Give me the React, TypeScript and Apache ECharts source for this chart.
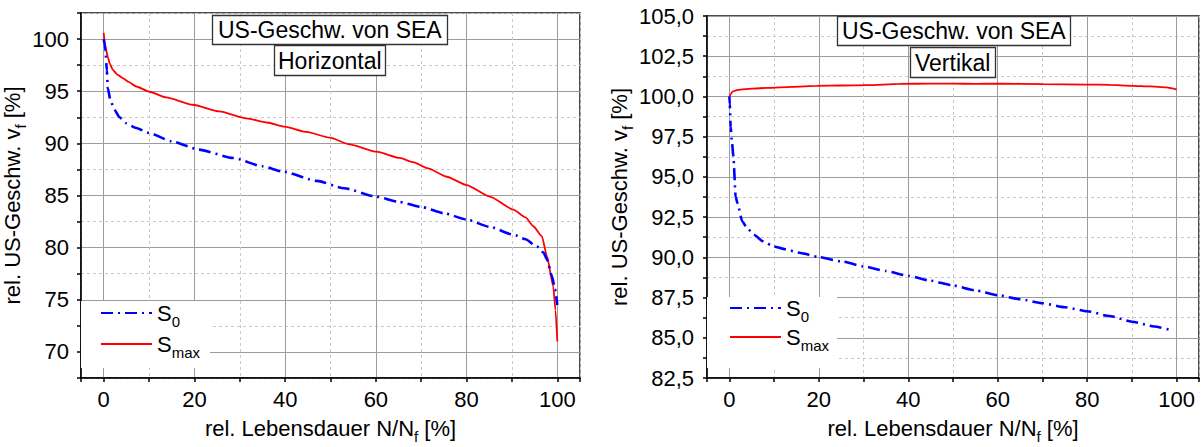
import React, { useEffect, useRef } from 'react';
import * as echarts from 'echarts';

// ---------- Data (left: Horizontal, right: Vertikal) ----------
const hS0X = [0, 0.2, 0.4, 0.7, 0.9, 1.5, 2.4, 3.5, 4.9, 7, 10, 15, 21, 28.5, 35, 39.5, 47, 53, 60, 65, 70, 75, 80, 85, 90.3, 93, 95.5, 97, 97.7, 98.8, 99.5, 100];
const hS0Y = [100, 99.5, 98.9, 97, 95.3, 94.1, 93.2, 92.5, 91.95, 91.5, 91.0, 90.2, 89.4, 88.6, 87.8, 87.3, 86.4, 85.7, 84.9, 84.4, 83.9, 83.3, 82.7, 82.0, 81.25, 80.8, 80.1, 79.5, 78.9, 77.3, 76.0, 74.5];

const hSmaxX = [0, 0.2, 0.5, 0.9, 1.4, 2, 3, 4.2, 5.5, 7.2, 10.1, 13.8, 19.6, 25.5, 31.4, 36, 39.9, 44.7, 49.8, 54.2, 60.1, 65.3, 68.2, 71.5, 75.6, 80, 85.1, 90.3, 93, 94.7, 96.6, 97.7, 99.1, 99.6, 100];
const hSmaxY = [100.6, 99.8, 99.0, 98.3, 97.6, 97.06, 96.6, 96.26, 95.9, 95.45, 94.95, 94.4, 93.7, 93.06, 92.4, 92.0, 91.6, 91.1, 90.55, 89.9, 89.2, 88.6, 88.2, 87.6, 86.8, 86.0, 84.9, 83.65, 82.9, 82.05, 81.1, 79.2, 76.3, 74.0, 71.0];

const vS0X = [0, 0.1, 0.3, 0.6, 0.9, 1.4, 1.8, 2.9, 4, 5.5, 7.5, 9.9, 12.5, 15.9, 20, 25, 30, 35, 40, 45, 50, 55, 60, 65, 70, 75, 80, 85, 90, 95, 99.1];
const vS0Y = [100, 99.5, 98.1, 97.1, 96.25, 93.78, 93.37, 92.23, 91.8, 91.4, 91.0, 90.68, 90.5, 90.27, 90.02, 89.75, 89.44, 89.15, 88.85, 88.55, 88.25, 87.95, 87.65, 87.4, 87.15, 86.9, 86.65, 86.35, 86.0, 85.7, 85.45];

const vSmaxX = [0, 0.3, 0.7, 1.5, 2.5, 5, 8.5, 14, 19.6, 25, 30.8, 38, 45, 50, 55, 60.5, 70, 79.8, 85, 90.2, 94, 97.7, 99, 100];
const vSmaxY = [99.98, 100.15, 100.3, 100.38, 100.43, 100.49, 100.53, 100.6, 100.66, 100.68, 100.7, 100.78, 100.8, 100.8, 100.78, 100.8, 100.77, 100.74, 100.72, 100.66, 100.62, 100.56, 100.5, 100.43];

const seriesNames = ['S0', 'Smax'];
const titleLines = ['US-Geschw. von SEA', 'Horizontal', 'Vertikal'];
const xAxisName = '{a|rel. Lebensdauer N/N}{s|f}{a| [%]}';
const yAxisName = '{a|rel. US-Geschw. v}{s|f}{a| [%]}';

// ---------- Styles ----------
const FONT = "'Liberation Sans', Arial, sans-serif";
const MAJOR = '#9c9c9c';
const MINOR = '#c8c8c8';
const CLEAR = 'rgba(0,0,0,0)';

const pairs = (xs: number[], ys: number[]) => xs.map((x, i) => [x, ys[i]]);
const isMult = (v: number, m: number) => Math.abs(v / m - Math.round(v / m)) < 1e-6;

const nameRich = {
  a: { fontSize: 22, lineHeight: 32, fontFamily: FONT, color: '#000' },
  s: { fontSize: 15, lineHeight: 15, verticalAlign: 'bottom', fontFamily: FONT, color: '#000' },
};

function makeXAxes(gridIndex: number) {
  return [
    {
      type: 'value', gridIndex, min: -5, max: 105, minInterval: 20, maxInterval: 20, splitNumber: 5,
      name: xAxisName, nameLocation: 'middle', nameGap: 34,
      nameTextStyle: { fontFamily: FONT, color: '#000', rich: nameRich },
      axisLine: { show: true, onZero: false, lineStyle: { color: '#000', width: 1.5 } },
      axisTick: { show: false },
      axisLabel: {
        show: true, margin: 10, fontSize: 22, fontFamily: FONT, color: '#000',
        formatter: (v: number) => (isMult(v, 20) ? String(Math.round(v)) : ''),
      },
      splitLine: { show: true, lineStyle: { color: MAJOR, width: 1, type: 'solid' } },
    },
    {
      type: 'value', gridIndex, position: 'bottom', min: -5, max: 105, minInterval: 10, maxInterval: 10, splitNumber: 11,
      axisLine: { show: false, onZero: false },
      axisTick: { show: true, inside: false, length: 4, lineStyle: { color: '#000', width: 1.5 } },
      axisLabel: { show: false },
      splitLine: { show: true, lineStyle: { color: [MINOR, CLEAR], width: 1, type: [3, 3] } },
    },
  ];
}

export default function App() {
  const ref = useRef<HTMLDivElement>(null);
  useEffect(() => {
    const chart = echarts.init(ref.current!, null, { renderer: 'svg' });

    const legendRich = {
      m: { fontSize: 22, lineHeight: 32, fontFamily: FONT, color: '#000' },
      s: { fontSize: 15, lineHeight: 15, verticalAlign: 'bottom', fontFamily: FONT, color: '#000' },
    };
    const legendFmt = (n: string) => (n === 'S0' ? '{m|S}{s|0}' : '{m|S}{s|max}');

    const titleStyle = { fontSize: 23, fontFamily: FONT, fontWeight: 'normal', color: '#000', lineHeight: 24 };
    const titleBox = { backgroundColor: '#fff', borderColor: '#333', borderWidth: 1.3 };

    const legendCommon = {
      orient: 'vertical', data: seriesNames, selectedMode: false,
      backgroundColor: '#fff', itemWidth: 51, itemHeight: 14,
      formatter: legendFmt, textStyle: { rich: legendRich },
      itemStyle: { opacity: 0, borderWidth: 0 },
    };

    const lineCommon = { type: 'line', symbol: 'none', showSymbol: false, smooth: 0.2, smoothMonotone: 'x' };
    const redStyle = { lineStyle: { color: '#ff0000', width: 1.8 }, itemStyle: { color: '#ff0000' } };
    const blueStyle = { lineStyle: { color: '#0000ff', width: 2.6, type: [12, 5, 2, 5] }, itemStyle: { color: '#0000ff' } };

    const option: any = {
      animation: false,
      backgroundColor: '#fff',
      title: [
        { text: titleLines[0], left: 212, top: 15, padding: [3, 6, 3, 6], textStyle: titleStyle, ...titleBox },
        { text: titleLines[1], left: 274, top: 45, padding: [4, 4, 3, 4], textStyle: titleStyle, ...titleBox },
        { text: titleLines[0], left: 837, top: 16, padding: [3, 5, 3, 5], textStyle: titleStyle, ...titleBox },
        { text: titleLines[2], left: 910, top: 47, padding: [4, 5, 3, 5], textStyle: titleStyle, ...titleBox },
      ],
      legend: [
        { ...legendCommon, left: 81, top: 301, padding: [1, 10, 8, 19], itemGap: 4 },
        { ...legendCommon, left: 707, top: 297, padding: [0, 8, 15, 22], itemGap: 2 },
      ],
      grid: [
        { left: 81, top: 13, width: 499, height: 365, show: true, borderColor: '#111', borderWidth: 1.5, backgroundColor: 'transparent', outerBoundsMode: 'none' },
        { left: 707, top: 16, width: 492, height: 362, show: true, borderColor: '#111', borderWidth: 1.5, backgroundColor: 'transparent', outerBoundsMode: 'none' },
      ],
      xAxis: [...makeXAxes(0), ...makeXAxes(1)],
      yAxis: [
        {
          type: 'value', gridIndex: 0, min: 67.5, max: 102.5, minInterval: 5, maxInterval: 5, splitNumber: 7,
          name: yAxisName, nameLocation: 'middle', nameGap: 41,
          nameTextStyle: { fontFamily: FONT, color: '#000', rich: nameRich },
          axisLine: { show: true, onZero: false, lineStyle: { color: '#000', width: 1.5 } },
          axisTick: { show: false },
          axisLabel: {
            show: true, margin: 12, fontSize: 22, fontFamily: FONT, color: '#000',
            formatter: (v: number) => (isMult(v, 5) ? String(Math.round(v)) : ''),
          },
          splitLine: { show: true, lineStyle: { color: MAJOR, width: 1, type: 'solid' } },
        },
        {
          type: 'value', gridIndex: 0, position: 'left', min: 67.5, max: 102.5, interval: 2.5,
          axisLine: { show: false, onZero: false },
          axisTick: { show: true, inside: false, length: 4, lineStyle: { color: '#000', width: 1.5 } },
          axisLabel: { show: false },
          splitLine: { show: true, lineStyle: { color: [MINOR, CLEAR], width: 1, type: [3, 3] } },
        },
        {
          type: 'value', gridIndex: 1, min: 82.5, max: 105, interval: 2.5,
          name: yAxisName, nameLocation: 'middle', nameGap: 66,
          nameTextStyle: { fontFamily: FONT, color: '#000', rich: nameRich },
          axisLine: { show: true, onZero: false, lineStyle: { color: '#000', width: 1.5 } },
          axisTick: { show: false },
          axisLabel: {
            show: true, margin: 13, fontSize: 22, fontFamily: FONT, color: '#000',
            formatter: (v: number) => v.toFixed(1).replace('.', ','),
          },
          splitLine: { show: true, lineStyle: { color: MAJOR, width: 1, type: 'solid' } },
        },
        {
          type: 'value', gridIndex: 1, position: 'left', min: 82.5, max: 105, interval: 1.25,
          axisLine: { show: false, onZero: false },
          axisTick: { show: true, inside: false, length: 4, lineStyle: { color: '#000', width: 1.5 } },
          axisLabel: { show: false },
          splitLine: { show: true, lineStyle: { color: [CLEAR, MINOR], width: 1, type: [3, 3] } },
        },
      ],
      series: [
        { ...lineCommon, ...redStyle, name: 'Smax', xAxisIndex: 0, yAxisIndex: 0, data: pairs(hSmaxX, hSmaxY) },
        { ...lineCommon, ...blueStyle, name: 'S0', xAxisIndex: 0, yAxisIndex: 0, data: pairs(hS0X, hS0Y) },
        { ...lineCommon, ...redStyle, name: 'Smax', xAxisIndex: 2, yAxisIndex: 2, data: pairs(vSmaxX, vSmaxY) },
        { ...lineCommon, ...blueStyle, name: 'S0', xAxisIndex: 2, yAxisIndex: 2, data: pairs(vS0X, vS0Y) },
      ],
    };

    chart.setOption(option);
    return () => chart.dispose();
  }, []);

  return <div ref={ref} style={{ position: 'absolute', left: 0, top: 0, width: 1201, height: 447 }} />;
}
